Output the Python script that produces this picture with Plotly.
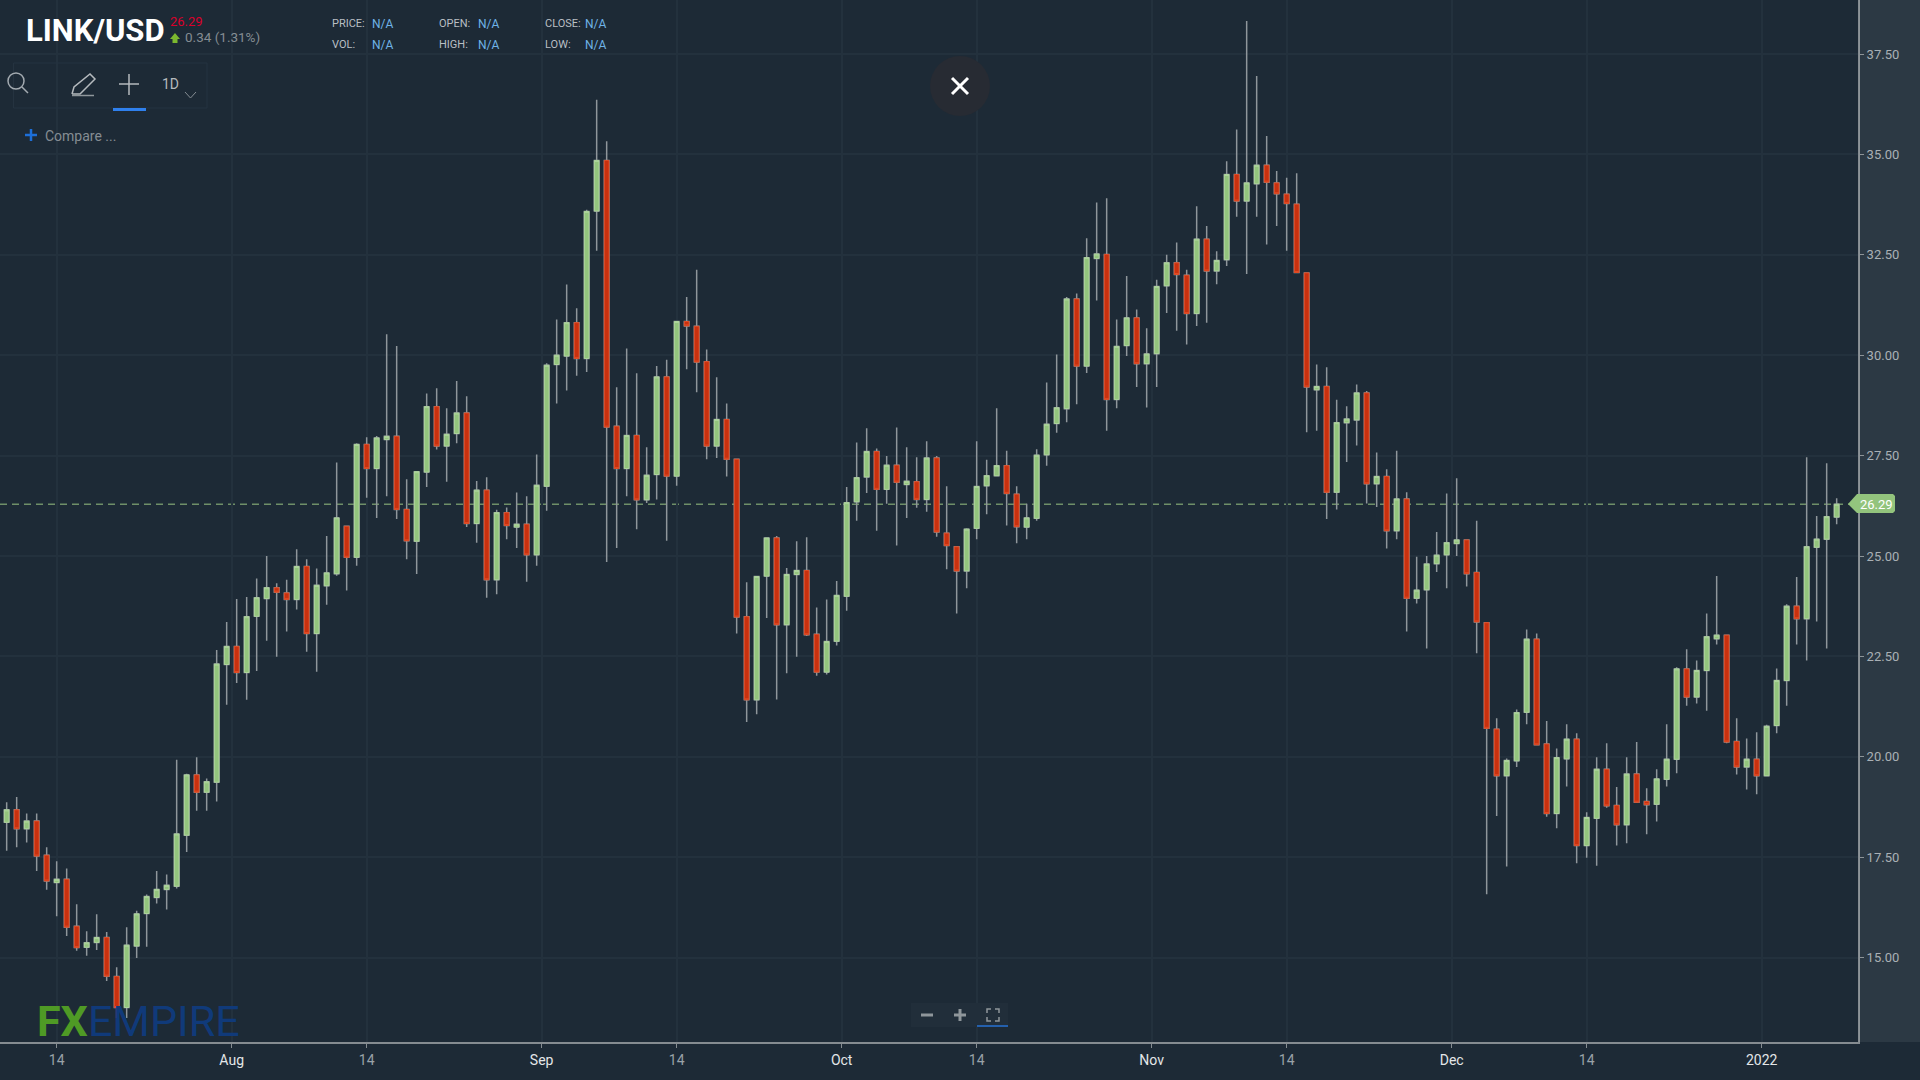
import pandas as pd
import plotly.graph_objects as go

# LINK/USD daily candles
dates = pd.date_range('2021-07-09 12:00', periods=184, freq='D')

opens = [
    18.37, 18.68, 18.21, 18.40, 17.55, 16.87, 16.95, 15.78, 15.26, 15.38, 15.50, 14.53, 13.76, 15.29, 16.10, 16.50,
    16.70, 16.78, 18.05, 19.55, 19.12, 19.37, 22.30, 22.75, 22.10, 23.50, 23.94, 24.21, 24.08, 23.92, 24.74, 23.07,
    24.26, 24.56, 25.74, 24.97, 27.78, 27.18, 27.90, 27.98, 26.16, 25.37, 27.09, 28.72, 27.74, 28.05, 28.56, 25.81,
    26.64, 24.41, 26.08, 25.72, 25.79, 25.03, 26.74, 29.77, 29.98, 30.81, 29.92, 33.59, 34.85, 28.23, 27.18, 28.00,
    26.40, 27.03, 29.46, 26.99, 30.84, 30.72, 29.84, 27.74, 28.40, 27.41, 23.49, 21.42, 24.50, 25.45, 23.29, 24.54,
    24.64, 23.05, 22.11, 22.88, 24.00, 26.35, 26.97, 27.60, 26.66, 27.26, 26.78, 26.85, 26.41, 27.44, 25.57, 25.23,
    24.63, 25.69, 26.75, 27.00, 27.25, 26.54, 25.72, 25.94, 27.52, 28.30, 28.67, 31.40, 29.73, 32.41, 32.51, 28.90,
    30.24, 30.93, 29.79, 30.04, 31.73, 32.30, 31.99, 31.04, 32.89, 32.10, 32.38, 34.50, 33.84, 34.27, 34.73, 34.29,
    34.01, 33.76, 32.05, 29.14, 29.22, 26.59, 28.32, 28.39, 29.06, 26.80, 26.98, 25.63, 26.42, 23.95, 24.16, 24.81,
    25.03, 25.31, 25.40, 24.59, 23.34, 20.69, 19.53, 19.90, 21.11, 22.93, 20.32, 18.59, 19.95, 20.44, 17.79, 18.47,
    19.69, 18.79, 18.31, 19.57, 18.89, 18.82, 19.44, 19.94, 22.19, 21.49, 22.15, 22.94, 23.03, 20.38, 19.75, 19.94,
    19.53, 20.78, 21.90, 23.75, 23.44, 25.22, 25.42, 25.97,
]
highs = [
    18.87, 19.00, 18.59, 18.59, 17.75, 17.40, 17.22, 16.33, 15.66, 16.08, 15.64, 14.76, 15.76, 16.17, 16.57, 17.16,
    17.07, 19.93, 19.58, 19.99, 19.46, 22.66, 23.36, 23.93, 23.98, 24.44, 25.00, 24.32, 24.41, 25.17, 24.92, 24.69,
    25.50, 27.33, 25.76, 27.81, 27.96, 27.99, 30.52, 30.23, 26.91, 27.11, 29.05, 29.18, 28.68, 29.36, 28.98, 26.87,
    26.96, 26.15, 26.21, 26.58, 26.49, 27.53, 29.80, 30.89, 31.76, 31.17, 33.62, 36.36, 35.33, 29.20, 30.17, 29.55,
    27.71, 29.73, 29.89, 30.86, 31.45, 32.13, 30.14, 29.45, 28.80, 27.42, 24.35, 24.50, 25.46, 25.50, 24.70, 25.37,
    25.47, 23.72, 23.92, 24.38, 26.72, 27.83, 28.18, 27.68, 27.49, 28.20, 27.71, 27.46, 27.86, 27.49, 26.74, 25.25,
    25.69, 27.86, 27.40, 28.68, 27.62, 26.74, 26.30, 27.66, 29.32, 30.02, 31.45, 31.54, 32.91, 33.80, 33.91, 30.89,
    31.97, 31.14, 30.67, 31.88, 32.50, 32.81, 32.13, 33.71, 33.22, 32.59, 34.83, 35.62, 38.32, 36.95, 35.46, 34.59,
    34.42, 34.53, 32.06, 29.77, 29.70, 28.89, 28.73, 29.27, 29.11, 27.58, 27.16, 27.62, 26.59, 24.98, 25.00, 25.60,
    26.56, 26.94, 25.41, 25.88, 23.35, 20.96, 19.96, 21.18, 23.17, 23.07, 20.89, 20.21, 20.81, 20.59, 18.62, 19.99,
    20.34, 19.25, 19.99, 20.37, 19.22, 19.69, 20.81, 22.23, 22.68, 22.40, 23.57, 24.50, 23.04, 20.96, 20.46, 20.61,
    20.80, 22.20, 23.80, 24.48, 27.46, 26.00, 27.31, 26.44,
]
lows = [
    17.66, 17.75, 17.87, 17.16, 16.69, 16.03, 15.54, 15.17, 15.05, 15.19, 14.42, 13.50, 13.50, 14.99, 15.27, 16.35,
    16.20, 16.72, 17.63, 18.66, 18.66, 18.89, 21.30, 21.84, 21.42, 22.14, 22.89, 22.49, 23.12, 23.67, 22.62, 22.12,
    23.79, 24.51, 24.14, 24.76, 26.45, 25.95, 26.49, 25.92, 24.92, 24.55, 26.72, 27.65, 26.85, 27.81, 25.72, 25.33,
    23.96, 24.05, 25.42, 25.20, 24.36, 24.76, 26.13, 28.80, 29.12, 29.49, 29.58, 32.60, 24.85, 25.20, 26.49, 25.67,
    26.32, 26.41, 25.38, 26.75, 29.65, 29.08, 27.41, 27.44, 26.98, 23.07, 20.87, 21.06, 23.46, 21.43, 22.08, 22.49,
    23.01, 22.02, 22.05, 22.77, 23.64, 25.88, 26.57, 25.63, 26.30, 25.26, 25.95, 26.20, 26.10, 25.48, 24.67, 23.57,
    24.20, 25.42, 26.04, 26.98, 25.76, 25.32, 25.42, 25.88, 27.25, 28.07, 28.33, 28.78, 29.56, 31.36, 28.12, 28.68,
    29.98, 29.21, 28.70, 29.21, 31.05, 30.61, 30.27, 30.73, 30.81, 31.77, 32.22, 33.45, 32.02, 33.45, 32.76, 33.22,
    32.60, 32.04, 28.08, 28.12, 25.92, 26.16, 27.34, 27.75, 26.31, 26.22, 25.19, 25.42, 23.12, 23.82, 22.70, 24.60,
    24.20, 25.00, 24.24, 22.58, 16.58, 18.53, 17.27, 19.75, 20.81, 20.28, 18.51, 18.22, 19.26, 17.35, 17.49, 17.29,
    18.73, 17.79, 17.85, 18.86, 18.07, 18.39, 19.26, 19.59, 21.27, 21.33, 21.15, 22.80, 20.34, 19.56, 19.19, 19.07,
    19.51, 20.59, 21.27, 22.80, 22.40, 23.37, 22.70, 25.79,
]
closes = [
    18.68, 18.21, 18.40, 17.53, 16.91, 16.95, 15.76, 15.25, 15.37, 15.50, 14.54, 13.76, 15.31, 16.09, 16.52, 16.70,
    16.80, 18.08, 19.55, 19.12, 19.38, 22.31, 22.75, 22.10, 23.49, 23.96, 24.21, 24.10, 23.92, 24.74, 23.07, 24.27,
    24.58, 25.95, 24.97, 27.78, 27.18, 27.94, 27.98, 26.16, 25.38, 27.10, 28.72, 27.74, 28.03, 28.56, 25.81, 26.64,
    24.41, 26.08, 25.76, 25.79, 25.03, 26.76, 29.75, 30.00, 30.81, 29.92, 33.58, 34.85, 28.21, 27.18, 28.00, 26.40,
    27.01, 29.46, 26.99, 30.84, 30.73, 29.83, 27.74, 28.40, 27.41, 23.48, 21.42, 24.49, 25.45, 23.29, 24.54, 24.64,
    23.04, 22.11, 22.87, 24.02, 26.33, 26.95, 27.60, 26.66, 27.26, 26.84, 26.86, 26.41, 27.44, 25.60, 25.26, 24.63,
    25.67, 26.73, 27.00, 27.25, 26.56, 25.73, 25.95, 27.51, 28.28, 28.69, 31.40, 29.73, 32.43, 32.52, 28.90, 30.22,
    30.93, 29.79, 30.03, 31.71, 32.30, 32.01, 31.04, 32.89, 32.10, 32.36, 34.50, 33.84, 34.29, 34.73, 34.31, 34.02,
    33.78, 32.06, 29.21, 29.22, 26.59, 28.32, 28.41, 29.06, 26.80, 26.98, 25.63, 26.42, 23.95, 24.15, 24.80, 25.02,
    25.33, 25.40, 24.56, 23.36, 20.71, 19.53, 19.91, 21.10, 22.93, 20.30, 18.59, 19.98, 20.44, 17.79, 18.49, 19.69,
    18.78, 18.31, 19.57, 18.87, 18.81, 19.45, 19.94, 22.19, 21.49, 22.15, 22.99, 23.03, 20.37, 19.75, 19.94, 19.53,
    20.76, 21.90, 23.75, 23.44, 25.23, 25.42, 25.98, 26.29,
]

last_price = 26.29
y_ticks = [15.0, 17.5, 20.0, 22.5, 25.0, 27.5, 30.0, 32.5, 35.0, 37.5]
x_ticks = ['2021-07-14 12:00', '2021-08-01', '2021-08-14 12:00', '2021-09-01', '2021-09-14 12:00', '2021-10-01',
           '2021-10-14 12:00', '2021-11-01', '2021-11-14 12:00', '2021-12-01', '2021-12-14 12:00', '2022-01-01']
x_labels = ['14', 'Aug', '14', 'Sep', '14', 'Oct', '14', 'Nov', '14', 'Dec', '14', '2022']

BG = '#1d2a36'
GRID = '#23313d'
AXIS = '#858c91'
GREEN = '#93c47d'
GREEN_EDGE = '#add49c'
RED = '#c9310f'
RED_EDGE = '#e04a24'
WICK = '#8f969b'
W, H = 1858, 1042  # plot area in screen pixels


def px(x):
    return x / W


def py(y):
    return 1 - y / H


def label(x, y, text, size=13, color='#a3aab0', anchor='left', family='Roboto'):
    fig.add_annotation(x=px(x), y=py(y), xref='paper', yref='paper', text=text, showarrow=False,
                       xanchor=anchor, yanchor='middle', borderpad=0,
                       font=dict(family=family, size=size, color=color))


def rect(x0, y0, x1, y1, fill='rgba(0,0,0,0)', line=None, layer='above', width=1):
    fig.add_shape(type='rect', xref='paper', yref='paper', x0=px(x0), x1=px(x1), y0=py(y0), y1=py(y1),
                  fillcolor=fill, line=dict(color=line or 'rgba(0,0,0,0)', width=width), layer=layer)


def path(points, color, width=1.5, fill=None, close=False):
    d = 'M ' + ' L '.join(f'{px(x):.6f} {py(y):.6f}' for x, y in points) + (' Z' if close else '')
    fig.add_shape(type='path', xref='paper', yref='paper', path=d, fillcolor=fill,
                  line=dict(color=color, width=width))


fig = go.Figure()

# wicks first, then the bodies on top so the wicks stay grey
fig.add_trace(go.Candlestick(
    x=dates, open=opens, high=highs, low=lows, close=closes,
    increasing=dict(line=dict(color=WICK, width=1.5), fillcolor=WICK),
    decreasing=dict(line=dict(color=WICK, width=1.5), fillcolor=WICK),
    whiskerwidth=0, hoverinfo='skip',
))
fig.add_trace(go.Candlestick(
    x=dates, open=opens, close=closes,
    high=[max(o, c) for o, c in zip(opens, closes)],
    low=[min(o, c) for o, c in zip(opens, closes)],
    increasing=dict(line=dict(color=GREEN_EDGE, width=1), fillcolor=GREEN),
    decreasing=dict(line=dict(color=RED_EDGE, width=1), fillcolor=RED),
    whiskerwidth=0,
))

fig.update_layout(
    width=1920, height=1080,
    margin=dict(l=0, r=62, t=0, b=38, autoexpand=False),
    paper_bgcolor=BG, plot_bgcolor=BG,
    showlegend=False,
    boxgap=0.33,
    xaxis=dict(
        type='date', rangeslider=dict(visible=False),
        range=['2021-07-08 20:00', '2022-01-10 15:12'],
        tickmode='array', tickvals=x_ticks,
        ticktext=[f'<span style="color:#e3e6e8">{t}</span>' if t != '14' else t for t in x_labels],
        showgrid=True, gridcolor=GRID, gridwidth=1.5, zeroline=False,
        showline=True, linecolor=AXIS, linewidth=2,
        ticks='outside', ticklen=4, tickcolor=AXIS, tickwidth=1,
        tickfont=dict(family='Roboto', size=14, color='#9aa2a8'),
    ),
    yaxis=dict(
        side='right', range=[12.9, 38.845],
        tickmode='array', tickvals=y_ticks, tickformat='.2f',
        showgrid=True, gridcolor=GRID, gridwidth=1.5, zeroline=False,
        showline=True, linecolor=AXIS, linewidth=2,
        ticks='outside', ticklen=4, tickcolor=AXIS, tickwidth=1,
        tickfont=dict(family='Roboto', size=13, color='#a3aab0'),
    ),
)

# right gutter (a light veil, tick labels stay readable under it) and last price line
rect(1859, 0, 1920, 1042, fill='rgba(255,255,255,0.07)')
rect(313, 13, 650, 56, fill=BG, layer='between')
fig.add_shape(type='line', xref='paper', yref='y', x0=0, x1=px(1850), y0=last_price, y1=last_price,
              line=dict(color='#6f8f68', width=1.3, dash='7px,5px'), layer='below')
path([(1848, 504), (1857, 494), (1893, 494), (1895, 496), (1895, 511), (1893, 513), (1857, 513)],
     GREEN, width=0, fill=GREEN, close=True)
label(1876.5, 504, str(last_price), size=13, color='#ffffff', anchor='center')

# header
label(25, 30, '<b>LINK/USD</b>', size=31, color='#ffffff')
label(168.5, 21, '26.29', size=13, color='#d9002b')
path([(175, 33), (180, 39), (177.5, 39), (177.5, 43), (172.5, 43), (172.5, 39), (170, 39)],
     '#7cb82f', width=0, fill='#7cb82f', close=True)
label(184, 37, '0.34 (1.31%)', size=13.5, color='#858d93')
for x0, x1, top, bottom in [(331, 371, 'PRICE:', 'VOL:'), (437.5, 477.5, 'OPEN:', 'HIGH:'), (543.5, 584, 'CLOSE:', 'LOW:')]:
    label(x0, 24, top, size=11, color='#b9bfc4')
    label(x0, 45, bottom, size=11, color='#b9bfc4')
    label(x1, 24, 'N/A', size=12, color='#6fb3e6')
    label(x1, 45, 'N/A', size=12, color='#6fb3e6')

# toolbar
rect(13.5, 63, 207, 108, line='#253340')
fig.add_shape(type='circle', xref='paper', yref='paper', x0=px(8), x1=px(24), y0=py(73), y1=py(89),
              line=dict(color='#a3aab0', width=1.5))
path([(22, 87), (28, 93)], '#a3aab0')
path([(72, 94), (74, 87), (90, 74), (95, 79), (80, 94), (72, 94)], '#b5babe')
path([(72, 95.5), (94, 95.5)], '#8f969b')
path([(129, 74), (129, 95)], '#b5babe')
path([(119, 84), (139, 84)], '#b5babe')
rect(113, 108, 146, 111, fill='#2f80ed')
label(170, 84, '1D', size=14, color='#b5babe', anchor='center')
path([(185, 92), (190.5, 98), (196, 92)], '#858d93', width=1)
path([(31, 129), (31, 141)], '#1d6fd8', width=2.5)
path([(25, 135), (37, 135)], '#1d6fd8', width=2.5)
label(44, 136, 'Compare ...', size=14, color='#858d93')

# close button
fig.add_shape(type='circle', xref='paper', yref='paper', x0=px(930), x1=px(990), y0=py(56), y1=py(116),
              fillcolor='#272b33', line=dict(width=0))
path([(952, 78), (968, 94)], '#ffffff', width=3)
path([(968, 78), (952, 94)], '#ffffff', width=3)

# zoom controls
rect(911, 1003, 1008, 1027, fill='#212e3a')
path([(921, 1015), (933, 1015)], '#8f969b', width=3)
path([(954, 1015), (966, 1015)], '#8f969b', width=3)
path([(960, 1009), (960, 1021)], '#8f969b', width=3)
for sx, sy in [(-1, -1), (1, -1), (-1, 1), (1, 1)]:
    path([(993 + sx * 6, 1015 + sy * 2), (993 + sx * 6, 1015 + sy * 6), (993 + sx * 2, 1015 + sy * 6)], '#8f969b', width=1.5)
rect(977, 1025, 1008, 1027, fill='#2460ad')

# logo
label(36, 1021, '<b><span style="color:#4f9a25">FX</span></b><span style="color:#103a7a">EMPIRE</span>',
      size=43, family='Roboto')

fig.write_html("out.html", config={'displayModeBar': False},
               post_script="document.body.style.margin='0';document.body.style.background='#1d2a36';")
